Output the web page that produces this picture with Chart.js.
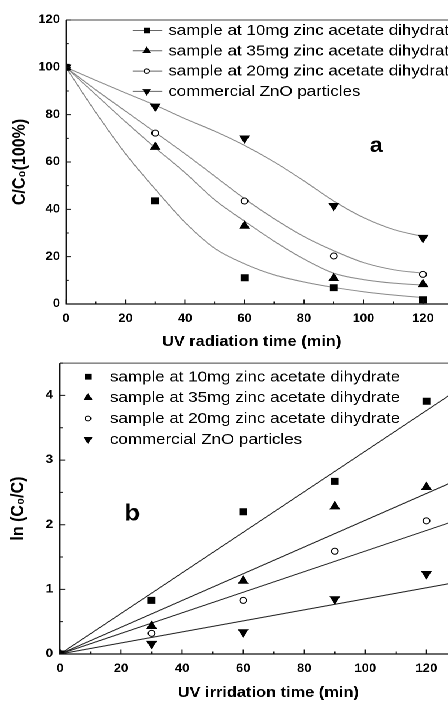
<!DOCTYPE html>
<html><head><meta charset="utf-8">
<script src="https://cdn.jsdelivr.net/npm/chart.js@4.4.0/dist/chart.umd.min.js"></script>
<style>
html,body{margin:0;padding:0;background:#fff;overflow:hidden;width:448px;height:701px;}
#wrap{position:absolute;left:0;top:0;width:410px;height:701px;transform:scaleX(1.13);transform-origin:0 0;}
.box{position:relative;width:410px;}
#b1{height:350px;} #b2{height:351px;}
</style></head><body>
<div id="wrap"><div class="box" id="b1"><canvas id="c1" width="410" height="350"></canvas></div><div class="box" id="b2"><canvas id="c2" width="410" height="351"></canvas></div></div>
<script>
// ---------- data ----------
const seriesLabels = [
  'sample at 10mg zinc acetate dihydrate',
  'sample at 35mg zinc acetate dihydrate',
  'sample at 20mg zinc acetate dihydrate',
  'commercial ZnO particles'
];
const times = [0, 30, 60, 90, 120];
// panel a: C/C0 (%)
const a10 = [100, 43.6, 11.1, 6.9, 1.8];
const a35 = [100, 66.3, 33.0, 10.9, 8.3];
const a20 = [100, 72.2, 43.5, 20.3, 12.5];
const aCom = [100, 83.5, 70.0, 41.5, 28.0];
// panel a: fitted curves
const fitT = [0, 10, 20, 30, 40, 50, 60, 70, 80, 90, 100, 110, 120];
const fit10 = [100, 81, 63.5, 48.5, 34.5, 23.5, 17, 12.3, 9.3, 7, 5.2, 3.8, 2.7];
const fit35 = [100, 88.5, 77, 66, 55.5, 44, 35, 26.5, 19, 13, 10.3, 8.8, 8.0];
const fit20 = [100, 90.5, 81.5, 72.5, 63.5, 54, 44.5, 36, 28.5, 22.5, 17.5, 14.5, 13];
const fitCom = [100, 94.5, 89.2, 84, 78.3, 73, 67, 60, 52, 43.5, 36.5, 31.5, 28.5];
// panel b: ln(C0/C)
const b10 = [0, 0.83, 2.20, 2.67, 3.91];
const b35 = [0, 0.43, 1.13, 2.28, 2.58];
const b20 = [0, 0.32, 0.83, 1.59, 2.06];
const bCom = [0, 0.16, 0.34, 0.85, 1.24];
// panel b: linear fits (end points)
const lineT = [0, 130];
const line10 = [0, 4.08];
const line35 = [0, 2.69];
const line20 = [0, 2.07];
const lineCom = [0, 1.11];
// axis ticks and titles
const aXTicks = {min: 0, max: 130, step: 20, minor: 10};
const aYTicks = {min: 0, max: 120, step: 20, minor: 10};
const bXTicks = {min: 0, max: 130, step: 20, minor: 10};
const bYTicks = {min: 0, max: 4.5, step: 1, minor: 0.5};
const aXTitle = 'UV radiation time (min)';
const aYTitle = 'C/C\u2080(100%)';
const bXTitle = 'UV irridation time (min)';
const bYTitle = 'ln (C\u2080/C)';

// ---------- helpers ----------
const FONT = "'Liberation Sans', Arial, sans-serif";
const pts = (xs, ys) => xs.map((x, i) => ({x: x, y: ys[i]}));
const markerStyles = [
  {pointStyle: 'rect', pointRadius: 4.2, rotation: 0, bg: '#000', bc: '#000'},
  {pointStyle: 'triangle', pointRadius: 4.6, rotation: 0, bg: '#000', bc: '#000'},
  {pointStyle: 'circle', pointRadius: 3.0, rotation: 0, bg: '#fff', bc: '#000'},
  {pointStyle: 'triangle', pointRadius: 4.6, rotation: 180, bg: '#000', bc: '#000'}
];
function markerDataset(label, xs, ys, st) {
  return {label: label, data: pts(xs, ys), showLine: false, pointStyle: st.pointStyle,
    pointRadius: st.pointRadius, pointHoverRadius: st.pointRadius, rotation: st.rotation,
    backgroundColor: st.bg, borderColor: st.bc, pointBorderWidth: 1, clip: 0, isMarker: true};
}
function lineDataset(xs, ys, color, smooth) {
  return {label: '', data: pts(xs, ys), showLine: true, pointRadius: 0, borderColor: color,
    borderWidth: 1, backgroundColor: color, fill: false,
    cubicInterpolationMode: smooth ? 'monotone' : 'default', tension: 0, clip: 0, isMarker: false};
}
function drawMarker(ctx, st, x, y, r) {
  ctx.beginPath();
  if (st.pointStyle === 'rect') { const s = r * Math.SQRT1_2; ctx.rect(x - s, y - s, 2 * s, 2 * s); }
  else if (st.pointStyle === 'circle') { ctx.arc(x, y, r, 0, Math.PI * 2); }
  else { const g = st.rotation === 180 ? -1 : 1;
    ctx.moveTo(x, y - g * r); ctx.lineTo(x + r * 0.866, y + g * r * 0.5); ctx.lineTo(x - r * 0.866, y + g * r * 0.5); ctx.closePath(); }
  ctx.fillStyle = st.bg; ctx.fill(); ctx.lineWidth = 1; ctx.strokeStyle = st.bc; ctx.stroke();
}
const near = (v, m) => Math.abs(v / m - Math.round(v / m)) < 1e-6;

const decor = {
  id: 'decor',
  afterDraw(chart, args, o) {
    const ctx = chart.ctx, a = chart.chartArea, xs = chart.scales.x, ys = chart.scales.y;
    ctx.save();
    // frame
    ctx.strokeStyle = '#111'; ctx.lineWidth = 1.2;
    ctx.beginPath();
    ctx.moveTo(a.left, a.top); ctx.lineTo(a.left, a.bottom); ctx.lineTo(a.right, a.bottom);
    ctx.stroke();
    ctx.strokeStyle = '#444'; ctx.lineWidth = 1;
    ctx.beginPath(); ctx.moveTo(a.left, a.top); ctx.lineTo(a.right, a.top); ctx.lineTo(a.right, a.bottom); ctx.stroke();
    // inward ticks
    ctx.strokeStyle = '#111'; ctx.lineWidth = 1;
    ctx.beginPath();
    for (let v = o.xt.min; v <= o.xt.max + 1e-9; v += o.xt.minor) {
      const p = xs.getPixelForValue(v); const len = near(v, o.xt.step) ? 4.5 : 2.5;
      ctx.moveTo(p, a.bottom); ctx.lineTo(p, a.bottom - len);
    }
    for (let v = o.yt.min; v <= o.yt.max + 1e-9; v += o.yt.minor) {
      const p = ys.getPixelForValue(v); const len = near(v, o.yt.step) ? 4.5 : 2.5;
      ctx.moveTo(a.left, p); ctx.lineTo(a.left + len, p);
    }
    ctx.stroke();
    // x tick labels (from the x scale's own ticks) and x title
    ctx.fillStyle = '#000'; ctx.textAlign = 'center'; ctx.textBaseline = 'middle';
    ctx.font = 'bold 11.5px ' + FONT;
    xs.ticks.forEach(t => {
      if (t.value > o.xt.max - 1e-9 && !near(t.value, o.xt.step)) return;
      ctx.fillText(String(t.value), xs.getPixelForValue(t.value), a.bottom + o.xlab.dy);
    });
    ctx.font = 'bold 14.5px ' + FONT;
    ctx.fillText(o.xlab.title, o.xlab.tx, o.xlab.ty);
    // legend
    const sets = chart.data.datasets.filter(d => d.isMarker);
    ctx.font = '15px ' + FONT; ctx.textBaseline = 'middle'; ctx.textAlign = 'left';
    sets.forEach((d, i) => {
      const y = o.lg.y0 + i * o.lg.dy;
      if (o.lg.line) { ctx.strokeStyle = '#666'; ctx.lineWidth = 1; ctx.beginPath(); ctx.moveTo(o.lg.l0, y); ctx.lineTo(o.lg.l1, y); ctx.stroke(); }
      drawMarker(ctx, markerStyles[i], o.lg.mx, y, markerStyles[i].pointRadius * o.lg.ms);
      ctx.fillStyle = '#000'; ctx.fillText(d.label, o.lg.tx, y + 0.5);
    });
    // panel letter
    ctx.font = 'bold ' + o.letter.size + 'px ' + FONT; ctx.textAlign = 'center'; ctx.textBaseline = 'middle';
    ctx.fillText(o.letter.text, o.letter.x, o.letter.y);
    ctx.restore();
  }
};

function xScale(t) {
  return {type: 'linear', min: t.min, max: t.max, display: false,
    ticks: {stepSize: t.step, includeBounds: false}};
}
function yScale(t, title, tickPad, titlePad, width) {
  return {type: 'linear', min: t.min, max: t.max,
    grid: {display: false, drawTicks: false, tickLength: 0}, border: {display: false},
    ticks: {stepSize: t.step, includeBounds: false, color: '#000', padding: tickPad, maxRotation: 0, autoSkip: false,
      font: {family: FONT, size: 11.5, weight: 'bold', lineHeight: 1.2}},
    title: {display: true, text: title, color: '#000', padding: titlePad,
      font: {family: FONT, size: 16, weight: 'bold', lineHeight: 1}},
    afterFit: s => { s.width = width; }};
}

Chart.defaults.animation = false;

new Chart(document.getElementById('c1'), {
  type: 'scatter',
  data: {datasets: [
    markerDataset(seriesLabels[0], times, a10, markerStyles[0]),
    markerDataset(seriesLabels[1], times, a35, markerStyles[1]),
    markerDataset(seriesLabels[2], times, a20, markerStyles[2]),
    markerDataset(seriesLabels[3], times, aCom, markerStyles[3]),
    lineDataset(fitT, fit10, '#8a8a8a', true),
    lineDataset(fitT, fit35, '#8a8a8a', true),
    lineDataset(fitT, fit20, '#8a8a8a', true),
    lineDataset(fitT, fitCom, '#8a8a8a', true)
  ]},
  options: {
    responsive: false, devicePixelRatio: 2, animation: false,
    layout: {padding: {left: 0, right: 9.3, top: 20, bottom: 46}},
    plugins: {legend: {display: false}, tooltip: {enabled: false},
      decor: {xt: aXTicks, yt: aYTicks,
        xlab: {dy: 15, title: aXTitle, tx: 222.7, ty: 342},
        lg: {line: true, y0: 30.5, dy: 20.3, l0: 117.4, l1: 143.6, mx: 129.8, ms: 0.75, tx: 148.9},
        letter: {text: 'a', x: 333, y: 146, size: 21}}},
    scales: {
      x: xScale(aXTicks),
      y: yScale(aYTicks, aYTitle, 5.3, {top: 9.7, bottom: 0}, 58.4)
    }
  },
  plugins: [decor]
});

new Chart(document.getElementById('c2'), {
  type: 'scatter',
  data: {datasets: [
    markerDataset(seriesLabels[0], times, b10, markerStyles[0]),
    markerDataset(seriesLabels[1], times, b35, markerStyles[1]),
    markerDataset(seriesLabels[2], times, b20, markerStyles[2]),
    markerDataset(seriesLabels[3], times, bCom, markerStyles[3]),
    lineDataset(lineT, line10, '#222', false),
    lineDataset(lineT, line35, '#222', false),
    lineDataset(lineT, line20, '#222', false),
    lineDataset(lineT, lineCom, '#222', false)
  ]},
  options: {
    responsive: false, devicePixelRatio: 2, animation: false,
    layout: {padding: {left: 0, right: 4.2, top: 12, bottom: 47}},
    plugins: {legend: {display: false}, tooltip: {enabled: false},
      decor: {xt: bXTicks, yt: bYTicks,
        xlab: {dy: 15, title: bXTitle, tx: 237.4, ty: 343},
        lg: {line: false, y0: 26.7, dy: 20.9, mx: 77.9, ms: 0.8, tx: 97.3},
        letter: {text: 'b', x: 117, y: 164, size: 23}}},
    scales: {
      x: xScale(bXTicks),
      y: yScale(bYTicks, bYTitle, 6.2, {top: 7.9, bottom: 0}, 53.1)
    }
  },
  plugins: [decor]
});
</script>
</body></html>
